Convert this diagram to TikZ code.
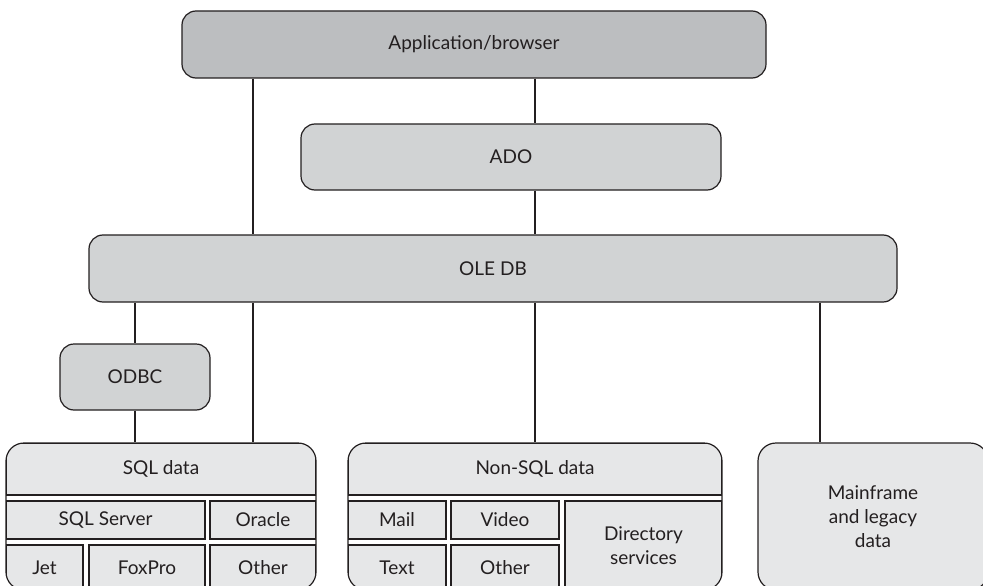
\documentclass[tikz,border=0pt]{standalone}
\usepackage{fontspec}
\setmainfont{Lato}
\definecolor{ink}{HTML}{231F20}
\definecolor{darkgray}{HTML}{BCBEC0}
\definecolor{midgray}{HTML}{D1D3D4}
\definecolor{lightgray}{HTML}{E6E7E8}
\begin{document}
\begin{tikzpicture}[x=1pt,y=-1pt,
  base/.style={draw=ink, line width=1.2pt, inner sep=0pt, align=center,
    font=\fontsize{19}{24}\selectfont, text=ink},
  topbox/.style={base, rounded corners=14pt},
  cell/.style={base, fill=lightgray},
  frame/.style={base, rounded corners=18pt},
  conn/.style={draw=ink, line width=1.1pt}]
\clip (0,0) rectangle (983,586);
\fill[white] (0,0) rectangle (983,586);

% upper layers
\node[topbox, fill=darkgray, minimum width=584pt, minimum height=67pt] (app) at (474,44.5) {Application/browser};
\node[topbox, fill=midgray, minimum width=420pt, minimum height=66pt] (ado) at (511,157) {ADO};
\node[topbox, fill=midgray, minimum width=808pt, minimum height=67pt] (oledb) at (493,268.5) {OLE DB};
\node[topbox, fill=midgray, minimum width=150pt, minimum height=66pt] (odbc) at (135,377) {ODBC};

% SQL group
\begin{scope}
\clip[rounded corners=18pt] (6,443) rectangle (316,590);
\node[cell, minimum width=310pt, minimum height=52pt] (sqlhdr) at (161,469) {SQL data};
\node[cell, minimum width=199pt, minimum height=38pt] (sqlsrv) at (105.5,520) {SQL Server};
\node[cell, minimum width=106pt, minimum height=38pt] (oracle) at (263,520) {Oracle};
\node[cell, minimum width=77pt, minimum height=45pt] (jet) at (44.5,567.5) {Jet};
\node[cell, minimum width=116pt, minimum height=45pt] (foxpro) at (147,567.5) {FoxPro};
\node[cell, minimum width=106pt, minimum height=45pt] (other1) at (263,567.5) {Other};
\end{scope}
\node[frame, minimum width=310pt, minimum height=147pt] (sqlg) at (161,516.5) {};

% Non-SQL group
\begin{scope}
\clip[rounded corners=18pt] (348,443) rectangle (722,590);
\node[cell, minimum width=374pt, minimum height=52pt] (nsqlhdr) at (535,469) {Non-SQL data};
\node[cell, minimum width=98pt, minimum height=38pt] (mail) at (397,520) {Mail};
\node[cell, minimum width=108pt, minimum height=38pt] (video) at (505,520) {Video};
\node[cell, minimum width=157pt, minimum height=89pt] (dir) at (643.5,545.5) {Directory\\services};
\node[cell, minimum width=98pt, minimum height=45pt] (textc) at (397,567.5) {Text};
\node[cell, minimum width=108pt, minimum height=45pt] (other2) at (505,567.5) {Other};
\end{scope}
\node[frame, minimum width=374pt, minimum height=147pt] (nsqlg) at (535,516.5) {};

% Mainframe
\node[frame, fill=lightgray, minimum width=230pt, minimum height=147pt] (mainf) at (873,516.5) {Mainframe\\and legacy\\data};

% connector columns
\coordinate (xa) at (253,0);
\coordinate (xb) at (535,0);
\coordinate (xc) at (820,0);

\draw[conn] (app.south -| xa) -- (oledb.north -| xa);
\draw[conn] (oledb.south -| xa) -- (sqlg.north -| xa);
\draw[conn] (app.south -| xb) -- (ado.north -| xb);
\draw[conn] (ado.south -| xb) -- (oledb.north -| xb);
\draw[conn] (oledb.south -| xb) -- (nsqlg.north -| xb);
\draw[conn] (oledb.south -| odbc) -- (odbc.north);
\draw[conn] (odbc.south) -- (sqlg.north -| odbc);
\draw[conn] (oledb.south -| xc) -- (mainf.north -| xc);
\end{tikzpicture}
\end{document}
